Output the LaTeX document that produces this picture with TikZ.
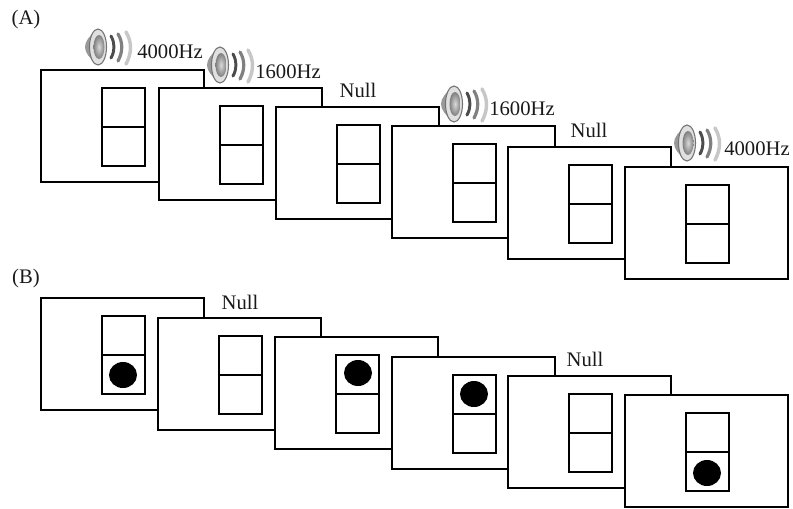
\documentclass[tikz,border=0pt]{standalone}
\usepackage{fontspec}
\setmainfont{Liberation Serif}
\usepackage{tikz}
\usetikzlibrary{positioning}

\begin{document}
\begin{tikzpicture}[
  x=0.75pt,y=-0.75pt,
  every node/.style={font=\fontsize{15.5}{18}\selectfont,align=center,text=black!90},
  screen/.style={draw=black,fill=white,line width=1.5pt},
  cell/.style={draw=black,line width=1.5pt},
  wave/.style={line width=1.7pt,line cap=round},
  speaker/.pic={
    \fill[black!40] (-13,0) .. controls (-13,-6) and (-8,-11) .. (-3,-16)
      -- (-3,16) .. controls (-8,11) and (-13,6) .. (-13,0) -- cycle;
    \filldraw[draw=black!55,fill=black!12,line width=0.8pt] (0,0) ellipse (8.5 and 18);
    \shade[inner color=black!15,outer color=black!50] (1,0) ellipse (5.5 and 12);
    \draw[wave,black!70,line width=2.2pt] (13,-11) .. controls (17,-4) and (17,4) .. (13,11);
    \draw[wave,black!50,line width=2.4pt] (20,-13) .. controls (25,-5) and (25,5) .. (20,14);
    \draw[wave,black!22,line width=2.6pt] (28,-15) .. controls (34,-5) and (34,6) .. (28,17);
  }
]
  % page
  \useasboundingbox (0,0) rectangle (793,508);

  % panel A
  \node (labelA) at (26,20) {(A)};
  \foreach \x/\y in {41/70,159/88,276/107,392/126,508/147,625/167}{
    \filldraw[screen] (\x,\y) rectangle ++(163,112);
    \draw[cell] (\x+61,\y+18) rectangle ++(43,78);
    \draw[cell] (\x+61,\y+57) -- ++(43,0);
  }

  % sounds of panel A
  \pic at (98,47) {speaker};
  \pic at (220,65) {speaker};
  \pic at (454,104) {speaker};
  \pic at (687,143) {speaker};
  \node (toneA) at (170,52) {4000Hz};
  \node (toneB) at (288,72) {1600Hz};
  \node (nullA) at (358,90) {Null};
  \node (toneC) at (522,109) {1600Hz};
  \node (nullB) at (589,130) {Null};
  \node (toneD) at (757,149) {4000Hz};

  % panel B
  \node (labelB) at (26,279) {(B)};
  \foreach \x/\y in {41/298,158/318,275/337,392/357,508/376,625/395}{
    \filldraw[screen] (\x,\y) rectangle ++(163,112);
    \draw[cell] (\x+61,\y+18) rectangle ++(43,78);
    \draw[cell] (\x+61,\y+57) -- ++(43,0);
  }

  % dots of panel B
  \foreach \x/\y in {123/375,358/373,474/394,707/473}{
    \fill[black] (\x,\y) ellipse (14 and 13);
  }
  \node (nullC) at (240,302) {Null};
  \node (nullD) at (585,359) {Null};
\end{tikzpicture}
\end{document}
